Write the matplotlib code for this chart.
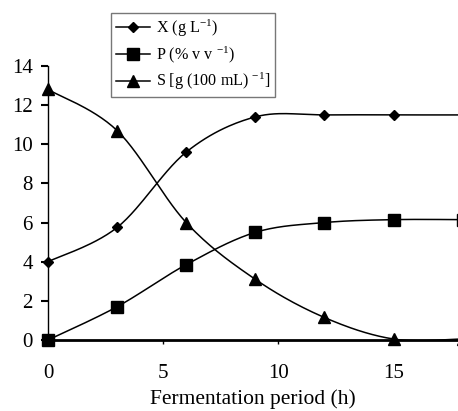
import numpy as np
import matplotlib
matplotlib.use("Agg")
from matplotlib import pyplot as plt

plt.rcParams['font.family'] = ['Liberation Serif', 'DejaVu Serif']
plt.rcParams['mathtext.fontset'] = 'custom'
plt.rcParams['mathtext.rm'] = 'Liberation Serif'
plt.rcParams['mathtext.it'] = 'Liberation Serif'

hours = [0, 3, 6, 9, 12, 15, 18]
x_biomass = [4.0, 5.75, 9.6, 11.4, 11.5, 11.5, 11.5]
p_ethanol = [0.0, 1.7, 3.85, 5.5, 6.0, 6.15, 6.15]
s_sugar = [12.8, 10.7, 6.0, 3.1, 1.15, 0.05, 0.05]

labels = ["X (g L$^{-1}$)", "P (% v v $^{-1}$)", "S [g (100 mL) $^{-1}$]"]
markers = ["D", "s", "^"]
msizes = [5, 8, 8]


def smooth(xs, ys, n=30):
    # Catmull-Rom curve through the points (like a spreadsheet's smoothed line)
    xs = np.asarray(xs, float)
    ys = np.asarray(ys, float)
    px = np.concatenate([[xs[0]], xs, [xs[-1]]])
    py = np.concatenate([[ys[0]], ys, [ys[-1]]])
    ox, oy = [], []
    t = np.linspace(0, 1, n)
    for i in range(1, len(px) - 2):
        p0, p1, p2, p3 = (np.array([px[j], py[j]]) for j in range(i - 1, i + 3))
        c1 = p1 + (p2 - p0) / 6
        c2 = p2 - (p3 - p1) / 6
        b = ((1 - t) ** 3)[:, None] * p1 + (3 * (1 - t) ** 2 * t)[:, None] * c1 \
            + (3 * (1 - t) * t ** 2)[:, None] * c2 + (t ** 3)[:, None] * p2
        ox.extend(b[:, 0])
        oy.extend(b[:, 1])
    return ox, oy


fig = plt.figure(figsize=(4.58, 4.11), dpi=100)
ax = fig.add_axes([48 / 458, 71 / 411, 1 - 48 / 458, (340 - 66) / 411])

handles = []
for ys, lab, m, ms in zip([x_biomass, p_ethanol, s_sugar], labels, markers, msizes):
    sx, sy = smooth(hours, ys)
    ax.plot(sx, sy, color="black", lw=1.1)
    ax.plot(hours, ys, linestyle="none", marker=m, ms=ms, color="black", clip_on=False)
    h, = ax.plot([], [], color="black", lw=1.1, marker=m, ms=ms, label=lab)
    handles.append(h)

ax.set_xlim(0, 17.8)
ax.set_ylim(0, 14)
ax.set_xticks([0, 5, 10, 15])
ax.set_yticks(range(0, 15, 2))
ax.spines['top'].set_visible(False)
ax.spines['right'].set_visible(False)
ax.spines['bottom'].set_linewidth(2)
ax.spines['left'].set_linewidth(1)
ax.tick_params(axis='y', direction='out', length=5, width=1.5, labelsize=15, pad=6)
ax.tick_params(axis='x', direction='out', length=3, width=1, labelsize=15, pad=14)
ax.set_xlabel("Fermentation period (h)", fontsize=15.5, labelpad=5)

leg = fig.legend(handles=handles, loc="upper left", bbox_to_anchor=(111 / 458, 1 - 13 / 411),
                 fontsize=11.6, frameon=True, fancybox=False, edgecolor="#555555",
                 handlelength=2.1, handletextpad=0.4, borderpad=0.3, labelspacing=0.35,
                 borderaxespad=0)
leg.get_frame().set_linewidth(1)

fig.savefig("out.png", dpi=100)
